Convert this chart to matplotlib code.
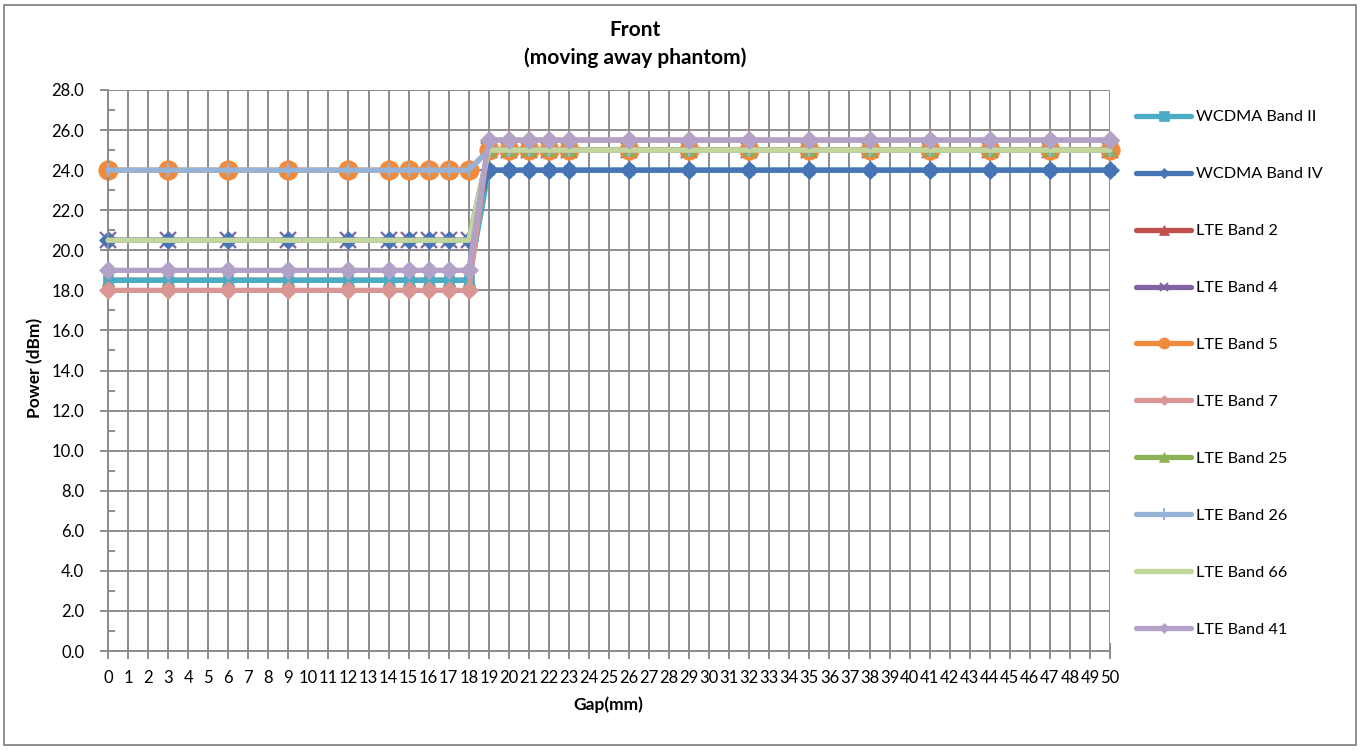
import matplotlib
matplotlib.use("Agg")
import matplotlib.pyplot as plt
from matplotlib.lines import Line2D
from matplotlib.patches import Rectangle
import numpy as np

plt.rcParams['font.family'] = ['Lato', 'DejaVu Sans']

# gap settings (mm) where power was measured
gap_mm = [0, 3, 6, 9, 12, 14, 15, 16, 17, 18, 19, 20, 21, 22, 23, 26, 29, 32, 35, 38, 41, 44, 47, 50]
gap_labels = [str(g) for g in range(0, 51)]

wcdma_b2 = [18.5, 18.5, 18.5, 18.5, 18.5, 18.5, 18.5, 18.5, 18.5, 18.5,
            24.0, 24.0, 24.0, 24.0, 24.0, 24.0, 24.0, 24.0, 24.0, 24.0, 24.0, 24.0, 24.0, 24.0]
wcdma_b4 = [20.5, 20.5, 20.5, 20.5, 20.5, 20.5, 20.5, 20.5, 20.5, 20.5,
            24.0, 24.0, 24.0, 24.0, 24.0, 24.0, 24.0, 24.0, 24.0, 24.0, 24.0, 24.0, 24.0, 24.0]
lte_b2 = [18.5, 18.5, 18.5, 18.5, 18.5, 18.5, 18.5, 18.5, 18.5, 18.5,
          25.0, 25.0, 25.0, 25.0, 25.0, 25.0, 25.0, 25.0, 25.0, 25.0, 25.0, 25.0, 25.0, 25.0]
lte_b4 = [20.5, 20.5, 20.5, 20.5, 20.5, 20.5, 20.5, 20.5, 20.5, 20.5,
          25.0, 25.0, 25.0, 25.0, 25.0, 25.0, 25.0, 25.0, 25.0, 25.0, 25.0, 25.0, 25.0, 25.0]
lte_b5 = [24.0, 24.0, 24.0, 24.0, 24.0, 24.0, 24.0, 24.0, 24.0, 24.0,
          25.0, 25.0, 25.0, 25.0, 25.0, 25.0, 25.0, 25.0, 25.0, 25.0, 25.0, 25.0, 25.0, 25.0]
lte_b7 = [18.0, 18.0, 18.0, 18.0, 18.0, 18.0, 18.0, 18.0, 18.0, 18.0,
          25.5, 25.5, 25.5, 25.5, 25.5, 25.5, 25.5, 25.5, 25.5, 25.5, 25.5, 25.5, 25.5, 25.5]
lte_b25 = [18.5, 18.5, 18.5, 18.5, 18.5, 18.5, 18.5, 18.5, 18.5, 18.5,
           25.0, 25.0, 25.0, 25.0, 25.0, 25.0, 25.0, 25.0, 25.0, 25.0, 25.0, 25.0, 25.0, 25.0]
lte_b26 = [24.0, 24.0, 24.0, 24.0, 24.0, 24.0, 24.0, 24.0, 24.0, 24.0,
           25.0, 25.0, 25.0, 25.0, 25.0, 25.0, 25.0, 25.0, 25.0, 25.0, 25.0, 25.0, 25.0, 25.0]
lte_b66 = [20.5, 20.5, 20.5, 20.5, 20.5, 20.5, 20.5, 20.5, 20.5, 20.5,
           25.0, 25.0, 25.0, 25.0, 25.0, 25.0, 25.0, 25.0, 25.0, 25.0, 25.0, 25.0, 25.0, 25.0]
lte_b41 = [19.0, 19.0, 19.0, 19.0, 19.0, 19.0, 19.0, 19.0, 19.0, 19.0,
           25.5, 25.5, 25.5, 25.5, 25.5, 25.5, 25.5, 25.5, 25.5, 25.5, 25.5, 25.5, 25.5, 25.5]

# name, values, colour, marker, plot marker size, legend marker size, z-order
series = [
    ('WCDMA Band II', wcdma_b2, '#4BACC6', 's', 7, 7, 2.3),
    ('WCDMA Band IV', wcdma_b4, '#4674B4', 'D', 9, 5, 2.4),
    ('LTE Band 2', lte_b2, '#C0504D', '^', 9, 7, 2.1),
    ('LTE Band 4', lte_b4, '#8064A2', 'x', 11, 6, 2.02),
    ('LTE Band 5', lte_b5, '#F08A3C', 'o', 14, 8, 2.05),
    ('LTE Band 7', lte_b7, '#D99694', 'D', 9, 5, 2.7),
    ('LTE Band 25', lte_b25, '#8DB255', '^', 9, 7, 2.2),
    ('LTE Band 26', lte_b26, '#95B3D7', '|', 10, 8, 2.6),
    ('LTE Band 66', lte_b66, '#C3D69B', 'None', 0, 0, 2.8),
    ('LTE Band 41', lte_b41, '#B3A2C7', 'D', 9, 5, 2.9),
]

fig = plt.figure(figsize=(13.66, 7.51), dpi=100)
ax = fig.add_axes([108 / 1366, 1 - 651 / 751, (1110 - 108) / 1366, (651 - 90) / 751])

grid_col = '#8C8C8C'
handles = []
for name, vals, col, mk, ms, lms, z in series:
    ax.plot(gap_mm, vals, color=col, lw=3.8, marker=mk, markersize=ms,
            markeredgewidth=1.6 if mk in ('x', '|') else 0.5,
            markeredgecolor=col, markerfacecolor=col, zorder=z,
            solid_capstyle='round', clip_on=False)
    handles.append(Line2D([], [], color=col, lw=3.8, marker=mk, markersize=lms,
                          markeredgewidth=1.4 if mk in ('x', '|') else 0.5,
                          markeredgecolor=col, markerfacecolor=col,
                          solid_capstyle='round'))

ax.set_xlim(0, 50)
ax.set_ylim(0, 28)
ax.set_xticks(range(0, 51))
ax.set_xticklabels(gap_labels)
ax.set_yticks(np.arange(0, 28.1, 2))
ax.set_yticks(np.arange(1, 28, 2), minor=True)
ax.yaxis.set_major_formatter(matplotlib.ticker.FormatStrFormatter('%.1f'))

ax.set_axisbelow(True)
ax.grid(True, which='major', color=grid_col, lw=1.4)
for side in ('top', 'right'):
    ax.spines[side].set_visible(False)
for side in ('left', 'bottom'):
    ax.spines[side].set_color(grid_col)
    ax.spines[side].set_linewidth(1.4)

ax.tick_params(axis='x', direction='inout', length=11, width=1.4, color=grid_col,
               labelsize=12, pad=8)
ax.tick_params(axis='y', which='major', direction='out', length=6, width=1.4,
               color=grid_col, labelsize=12, pad=11)
ax.tick_params(axis='y', which='minor', direction='in', length=5, width=1.4,
               color=grid_col)

fig.text(635 / 1366, 1 - 44 / 751, 'Front\n(moving away phantom)', ha='center',
         va='center', fontsize=15, fontweight='bold', linespacing=1.4)
fig.text(35 / 1366, 1 - 368 / 751, 'Power (dBm)', rotation=90, ha='center',
         va='center', fontsize=12.5, fontweight='bold')
fig.text(608 / 1366, 1 - 705 / 751, 'Gap(mm)', ha='center', va='center',
         fontsize=12.5, fontweight='bold')

fig.legend(handles, [s[0] for s in series], loc='upper left',
           bbox_to_anchor=(1136 / 1366, 1 - 110 / 751), frameon=False,
           fontsize=11.7, handlelength=3.4, handletextpad=0.3,
           labelspacing=2.62, borderaxespad=0, borderpad=0)

fig.patches.append(Rectangle((4 / 1366, 6 / 751), (1356 - 4) / 1366, (745 - 5) / 751,
                             transform=fig.transFigure, fill=False,
                             edgecolor='#868686', lw=1.3))

fig.savefig('out.png', dpi=100)
